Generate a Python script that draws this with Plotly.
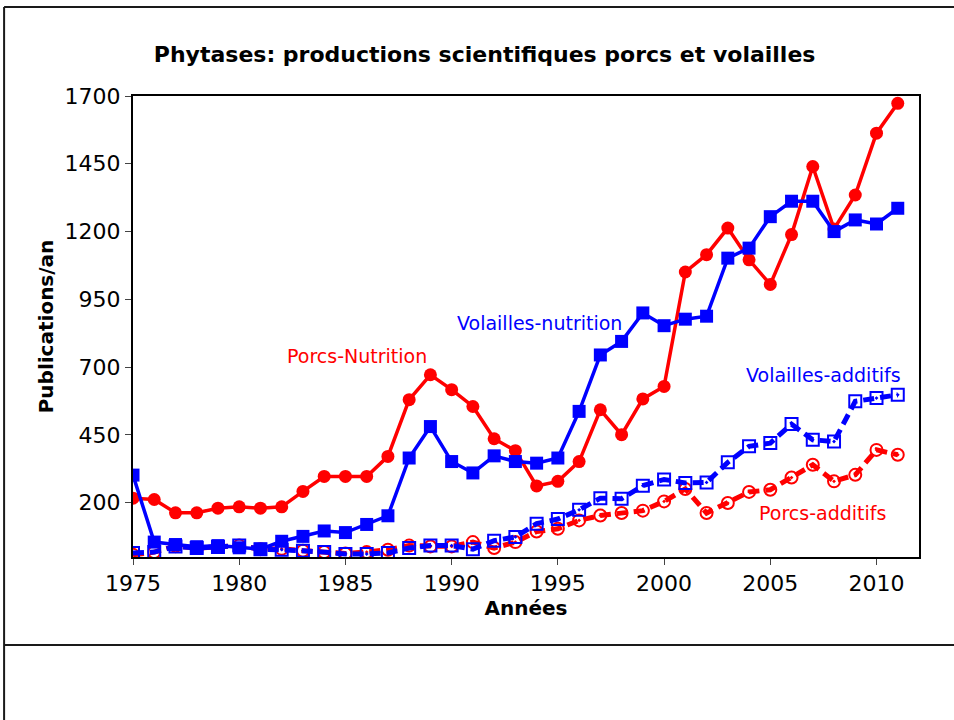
import plotly.graph_objects as go

# Années 1975-2011
years = list(range(1975, 2012))

# Publications/an, valeurs
porcs_nutrition = [217, 212, 163, 163, 180, 185, 180, 185, 242, 297,
                   297, 297, 371, 580, 672, 617, 555, 436, 392, 262,
                   279, 352, 543, 451, 583, 629, 1051, 1115, 1213, 1096,
                   1005, 1189, 1440, 1210, 1335, 1563, 1673]
volailles_nutrition = [302, 55, 46, 38, 42, 34, 29, 58, 76, 96,
                       90, 120, 152, 365, 481, 352, 310, 373, 352, 346,
                       365, 537, 745, 795, 900, 853, 877, 888, 1102, 1139,
                       1255, 1312, 1312, 1200, 1243, 1228, 1286]
porcs_additifs = [8, 18, 40, 33, 37, 42, 29, 30, 23, 18,
                  13, 18, 27, 42, 39, 39, 55, 33, 55, 94,
                  104, 135, 153, 162, 171, 205, 251, 162, 199, 240,
                  248, 293, 340, 279, 303, 395, 377]
volailles_additifs = [15, 18, 39, 33, 37, 42, 29, 27, 23, 18,
                      11, 11, 15, 33, 42, 42, 29, 60, 74, 123,
                      140, 174, 217, 215, 263, 286, 273, 275, 349, 408,
                      420, 490, 432, 426, 574, 586, 598]

y_ticks = [200, 450, 700, 950, 1200, 1450, 1700]
x_ticks = [1975, 1980, 1985, 1990, 1995, 2000, 2005, 2010]

RED = "#ff0000"
BLUE = "#0000ff"
FONT = "DejaVu Sans"

fig = go.Figure()

fig.add_trace(go.Scatter(
    x=years, y=porcs_additifs, mode="lines+markers", name="Porcs-additifs",
    line=dict(color=RED, width=5, dash="11px,6px"),
    marker=dict(symbol="circle-open-dot", size=12, color=RED, line=dict(width=2)),
))
fig.add_trace(go.Scatter(
    x=years, y=volailles_additifs, mode="lines+markers", name="Volailles-additifs",
    line=dict(color=BLUE, width=5, dash="11px,6px"),
    marker=dict(symbol="square-open-dot", size=12, color=BLUE, line=dict(width=2)),
))
fig.add_trace(go.Scatter(
    x=years, y=porcs_nutrition, mode="lines+markers", name="Porcs-Nutrition",
    line=dict(color=RED, width=3.5),
    marker=dict(symbol="circle", size=13, color=RED),
))
fig.add_trace(go.Scatter(
    x=years, y=volailles_nutrition, mode="lines+markers", name="Volailles-nutrition",
    line=dict(color=BLUE, width=3.5),
    marker=dict(symbol="square", size=13, color=BLUE),
))

# Étiquettes des séries
labels = [
    ("Porcs-Nutrition", 1985.54, 742, RED),
    ("Volailles-nutrition", 1994.14, 863, BLUE),
    ("Volailles-additifs", 2007.52, 672, BLUE),
    ("Porcs-additifs", 2007.48, 163, RED),
]
for text, lx, ly, col in labels:
    fig.add_annotation(x=lx, y=ly, text=text, showarrow=False,
                       font=dict(family=FONT, size=19, color=col))

# Cadre extérieur (cellule de tableau)
frame = dict(color="#1a1a1a", width=2)
fig.add_shape(type="line", xref="paper", yref="paper",
              x0=-0.164, x1=1.1, y0=1.193, y1=1.193, line=frame)
fig.add_shape(type="line", xref="paper", yref="paper",
              x0=-0.164, x1=-0.164, y0=1.193, y1=-0.36, line=frame)
fig.add_shape(type="line", xref="paper", yref="paper",
              x0=-0.164, x1=1.1, y0=-0.191, y1=-0.191, line=frame)

fig.update_layout(
    width=954, height=720,
    margin=dict(l=133, r=35, t=96, b=163),
    paper_bgcolor="white", plot_bgcolor="white",
    showlegend=False,
    font=dict(family=FONT, size=22, color="black"),
    title=dict(text="<b>Phytases: productions scientifiques porcs et volailles</b>",
               x=0.508, xanchor="center", y=0.925, yanchor="middle",
               font=dict(family=FONT, size=22, color="black")),
)
fig.update_xaxes(
    range=[1975, 2012], tickvals=x_ticks, ticks="outside", ticklen=6,
    showgrid=False, zeroline=False, showline=True, linecolor="black",
    linewidth=2, mirror=True,
    title=dict(text="<b>Années</b>", standoff=6, font=dict(size=20)),
)
fig.update_yaxes(
    range=[0, 1700], tickvals=y_ticks, ticks="outside", ticklen=6,
    showgrid=False, zeroline=False, showline=True, linecolor="black",
    linewidth=2, mirror=True,
    title=dict(text="<b>Publications/an</b>", standoff=6, font=dict(size=20)),
)

fig.write_html("out.html", config={"displayModeBar": False},
               post_script="document.body.style.margin='0';")
